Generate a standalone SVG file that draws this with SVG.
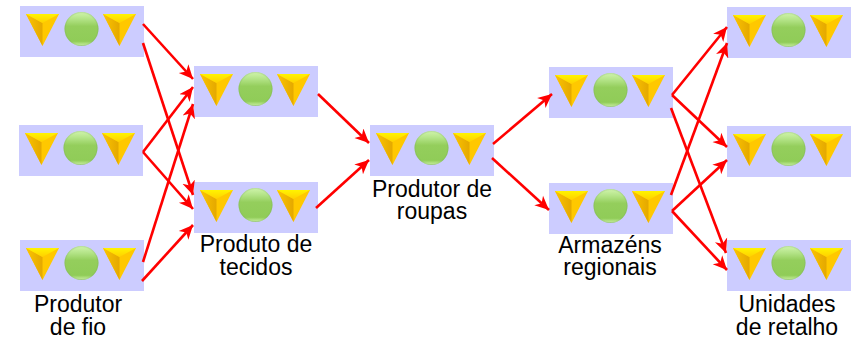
<svg xmlns="http://www.w3.org/2000/svg" width="852" height="339" viewBox="0 0 852 339">
<style>
.box{fill:#ccccff}
.lab{font-family:"Liberation Sans",Arial,sans-serif;font-size:23px;text-anchor:middle;fill:#000}
.arr{fill:none;stroke:#ff0000;stroke-width:2.6;marker-end:url(#ah)}
</style>
<defs>
<marker id="ah" markerUnits="userSpaceOnUse" markerWidth="16" markerHeight="16" refX="14" refY="8" orient="auto">
<path d="M0 1.5L14 8L0 14.5L4 8Z" fill="#ff0000"/>
</marker>
<linearGradient id="ball" x1="0" y1="0" x2="0" y2="1">
<stop offset="0" stop-color="#d0f4ac"/><stop offset="0.2" stop-color="#b4e488"/><stop offset="0.42" stop-color="#94ce5c"/><stop offset="0.86" stop-color="#90cc58"/><stop offset="0.96" stop-color="#bce890"/><stop offset="1" stop-color="#a8d488"/>
</linearGradient>
<radialGradient id="rim" cx="0.5" cy="0.5" r="0.5">
<stop offset="0.9" stop-color="#70a060" stop-opacity="0"/><stop offset="1" stop-color="#70a060" stop-opacity="0.3"/>
</radialGradient>
<linearGradient id="leftFace" x1="0" y1="0" x2="1" y2="0">
<stop offset="0" stop-color="#fcc400"/><stop offset="1" stop-color="#e4a800"/>
</linearGradient>
<linearGradient id="topFace" x1="0" y1="0" x2="0" y2="1">
<stop offset="0" stop-color="#fff400"/><stop offset="1" stop-color="#ffd000"/>
</linearGradient>
<g id="tri">
<path d="M0 0L33 0L16.5 32Z" fill="#ffc800"/>
<path d="M0 0L16.5 9V32Z" fill="url(#leftFace)"/>
<path d="M0 0H33L16.5 9Z" fill="url(#topFace)"/>
</g>
<g id="icons">
<rect class="box" width="124" height="51"/>
<use href="#tri" x="6" y="8"/>
<circle cx="61.5" cy="23" r="17" fill="url(#ball)"/>
<circle cx="61.5" cy="23" r="17" fill="url(#rim)"/>
<use href="#tri" x="83" y="8"/>
</g>
</defs>
<g id="node-a"><use href="#icons" x="20" y="6"/></g>
<g id="node-b"><use href="#icons" x="19" y="125"/></g>
<g id="node-c"><use href="#icons" x="20" y="240"/><text class="lab" x="78" y="312">Produtor</text><text class="lab" x="78" y="335">de fio</text></g>
<g id="node-d"><use href="#icons" x="194" y="66"/></g>
<g id="node-e"><use href="#icons" x="194" y="182"/><text class="lab" x="256" y="252">Produto de</text><text class="lab" x="256" y="275">tecidos</text></g>
<g id="node-f"><use href="#icons" x="370" y="125"/><text class="lab" x="432" y="197">Produtor de</text><text class="lab" x="432" y="219">roupas</text></g>
<g id="node-g"><use href="#icons" x="549" y="67"/></g>
<g id="node-h"><use href="#icons" x="549" y="183"/><text class="lab" x="610" y="253">Armazéns</text><text class="lab" x="610" y="275">regionais</text></g>
<g id="node-i"><use href="#icons" x="727" y="7"/></g>
<g id="node-j"><use href="#icons" x="727" y="126"/></g>
<g id="node-k"><use href="#icons" x="727" y="240"/><text class="lab" x="787" y="312">Unidades</text><text class="lab" x="787" y="335">de retalho</text></g>
<g id="connectors">
<path class="arr" d="M143 24L193 79"/>
<path class="arr" d="M143 43L193 195"/>
<path class="arr" d="M143 152L193 87"/>
<path class="arr" d="M143 152L193 209"/>
<path class="arr" d="M143 262L193 104"/>
<path class="arr" d="M142 281L193 225"/>
<path class="arr" d="M318 94L369 143"/>
<path class="arr" d="M316 208L369 160"/>
<path class="arr" d="M493 144L552 94"/>
<path class="arr" d="M492 158L549 210"/>
<path class="arr" d="M672 95L727 27"/>
<path class="arr" d="M672 95L727 147"/>
<path class="arr" d="M671 108L726 253"/>
<path class="arr" d="M671 195L727 43"/>
<path class="arr" d="M672 211L727 160"/>
<path class="arr" d="M672 211L727 270"/>
</g>
</svg>
